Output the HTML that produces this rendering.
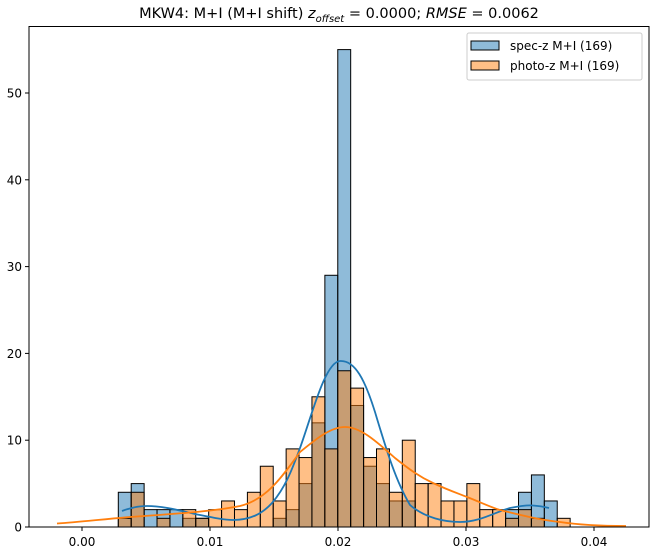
<!DOCTYPE html>
<html><head><meta charset="utf-8"><style>
html,body{margin:0;padding:0;background:#fff;}
svg{display:block;font-family:"DejaVu Sans","Liberation Sans",sans-serif;}
</style></head><body>
<svg id="s" width="651" height="552" viewBox="0 0 651 552" xmlns="http://www.w3.org/2000/svg">
<rect width="651" height="552" fill="#fff"/>
<g id="bars"></g>
<path d="M122,511 C130,508 140,506 147,506 C165,506 185,512 200,515 C215,518 225,520 233,520 C250,520 262,514 272,503 C285,488 292,470 300,448 C312,415 325,362 340,361 C355,360 365,380 375,412 C385,445 395,480 410,505 C425,518 445,522 460,522 C480,522 495,512 510,508 C520,506 528,505 533,505.5 C540,506 545,507 549,508" fill="none" stroke="#1f77b4" stroke-width="1.8"/>
<path d="M57,523.5 C80,522 100,519.5 130,517 C170,514 210,512 240,506 C265,500 280,480 300,452 C315,440 330,427 345,427 C360,427 375,440 395,458 C410,470 420,477 433,483 C450,491 460,494 467,497 C480,502 490,507 500,510 C520,515 540,520 560,522 C580,525 600,526 626,526" fill="none" stroke="#ff7f0e" stroke-width="1.8"/>
<rect x="29" y="26.5" width="620" height="500.5" fill="none" stroke="#000" stroke-width="1"/>
<g stroke="#000" stroke-width="1">
<line x1="82" y1="527" x2="82" y2="531"/><line x1="210" y1="527" x2="210" y2="531"/><line x1="338" y1="527" x2="338" y2="531"/><line x1="466" y1="527" x2="466" y2="531"/><line x1="594" y1="527" x2="594" y2="531"/>
<line x1="25" y1="527" x2="29" y2="527"/><line x1="25" y1="440.2" x2="29" y2="440.2"/><line x1="25" y1="353.4" x2="29" y2="353.4"/><line x1="25" y1="266.6" x2="29" y2="266.6"/><line x1="25" y1="179.8" x2="29" y2="179.8"/><line x1="25" y1="93" x2="29" y2="93"/>
</g>
<g font-size="12" fill="#000" text-anchor="middle">
<text x="82" y="546">0.00</text><text x="210" y="546">0.01</text><text x="338" y="546">0.02</text><text x="466" y="546">0.03</text><text x="594" y="546">0.04</text>
</g>
<g font-size="12" fill="#000" text-anchor="end">
<text x="22" y="531.5">0</text><text x="22" y="444.7">10</text><text x="22" y="357.9">20</text><text x="22" y="271.1">30</text><text x="22" y="184.3">40</text><text x="22" y="97.5">50</text>
</g>
<text x="339" y="18" font-size="14.5" text-anchor="middle">MKW4: M+I (M+I shift) <tspan font-style="italic">z</tspan><tspan font-style="italic" font-size="10" dy="4">offset</tspan><tspan dy="-4"> = 0.0000; </tspan><tspan font-style="italic">RMSE</tspan> = 0.0062</text>
<rect x="467" y="33" width="175" height="47" rx="2" fill="#fff" fill-opacity="0.8" stroke="#ccc"/>
<rect x="471" y="41" width="28" height="9" fill="#1f77b4" fill-opacity="0.5" stroke="#000"/>
<rect x="471" y="61" width="28" height="9" fill="#ff7f0e" fill-opacity="0.5" stroke="#000"/>
<text x="510" y="50" font-size="12">spec-z M+I (169)</text>
<text x="510" y="70" font-size="12">photo-z M+I (169)</text>
</svg>
<script>
var b=[4,5,2,2,2,1,1,0,0,0,0,0,1,2,5,12,29,55,14,7,5,3,3,0,0,0,0,0,0,0,2,4,6,3,0];
var o=[1,4,0,1,0,2,1,2,3,2,4,7,3,9,8,15,9,18,16,8,9,4,10,5,5,3,3,5,2,2,1,2,1,0,1];
var g=document.getElementById('bars'),h='';
function add(a,c){for(var i=0;i<a.length;i++){if(!a[i])continue;var x=118.3+12.91*i,hh=a[i]*8.68;
h+='<rect x="'+x.toFixed(2)+'" y="'+(527-hh).toFixed(2)+'" width="12.91" height="'+hh.toFixed(2)+'" fill="'+c+'" fill-opacity="0.5" stroke="#000" stroke-width="1"/>';}}
add(b,'#1f77b4');add(o,'#ff7f0e');
g.innerHTML=h;
</script>
</body></html>
